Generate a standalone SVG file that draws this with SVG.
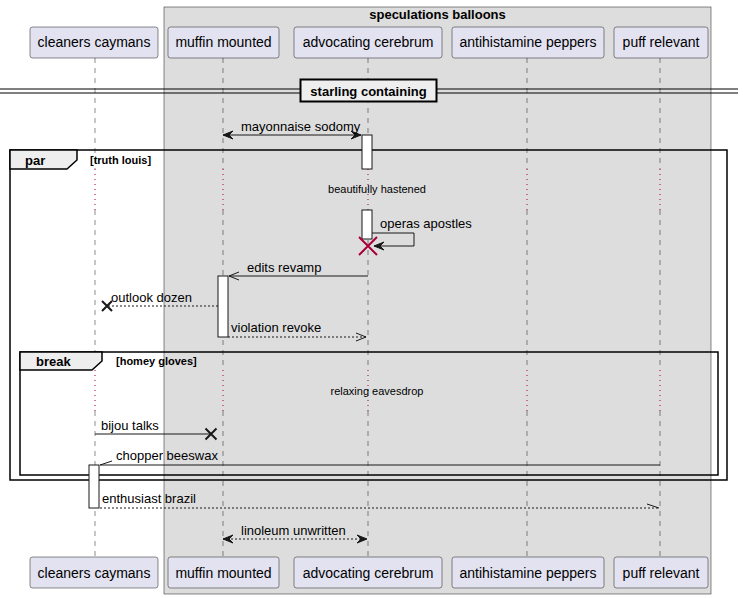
<svg xmlns="http://www.w3.org/2000/svg" width="743" height="598" viewBox="0 0 743 598">
<defs>
<style>
.part{fill:#E2E2F0;stroke:#181818;stroke-width:0.5}
.pt{font-family:"Liberation Sans",Arial,sans-serif;font-size:14px;fill:#000;text-anchor:middle}
.life{stroke:#181818;stroke-width:0.5;stroke-dasharray:5,5;fill:none}
.delay{stroke:#A80036;stroke-width:1;stroke-dasharray:1,4;fill:none}
.msg{stroke:#181818;stroke-width:1;fill:none}
.dash{stroke-dasharray:2,2}
.mt{font-family:"Liberation Sans",Arial,sans-serif;font-size:13px;fill:#000}
.st{font-family:"Liberation Sans",Arial,sans-serif;font-size:11px;fill:#000;text-anchor:middle}
.act{fill:#FFFFFF;stroke:#181818;stroke-width:1}
.frame{fill:none;stroke:#000;stroke-width:1.5}
.tab{fill:#EEEEEE;stroke:#000;stroke-width:1.5}
.ft{font-family:"Liberation Sans",Arial,sans-serif;font-size:13px;font-weight:bold;fill:#000}
.fc{font-family:"Liberation Sans",Arial,sans-serif;font-size:11px;font-weight:bold;fill:#000}
.kill{stroke:#181818;stroke-width:2;fill:none}
.killred{stroke:#A80036;stroke-width:2;fill:none}
</style>
<marker id="arrFill" markerUnits="userSpaceOnUse" markerWidth="12" markerHeight="10" viewBox="-11 -5 12 10" refX="0" refY="0" orient="auto-start-reverse">
<path d="M-10,-4 L0,0 L-10,4 L-6,0 Z" fill="#181818" stroke="#181818" stroke-width="1"/>
</marker>
<marker id="arrOpen" markerUnits="userSpaceOnUse" markerWidth="12" markerHeight="10" viewBox="-11 -5 12 10" refX="0" refY="0" orient="auto-start-reverse">
<path d="M-10,-4 L0,0 L-10,4" fill="none" stroke="#181818" stroke-width="1"/>
</marker>
</defs>

<rect width="743" height="598" fill="#FFFFFF"/>

<!-- box around the grouped participants -->
<g id="box-speculations-balloons">
<rect x="164" y="7" width="547" height="587" fill="#DDDDDD" stroke="#181818" stroke-width="0.5"/>
<text x="437.5" y="19" class="ft" text-anchor="middle">speculations balloons</text>
</g>

<!-- lifelines -->
<g id="lifelines">
<path class="life" d="M95,58 V169 M95,210 V370 M95,411 V557 M223,58 V169 M223,210 V370 M223,411 V557 M368,58 V169 M368,210 V370 M368,411 V557 M527,58 V169 M527,210 V370 M527,411 V557 M660,58 V169 M660,210 V370 M660,411 V557"/>
<path class="delay" d="M95,169 V210 M223,169 V210 M368,169 V210 M527,169 V210 M660,169 V210 M95,370 V411 M223,370 V411 M368,370 V411 M527,370 V411 M660,370 V411"/>
</g>

<!-- participants -->
<g id="p-cleaners-caymans">
<rect class="part" x="30" y="27" width="128" height="31" rx="2.5"/>
<text class="pt" x="94" y="47">cleaners caymans</text>
<rect class="part" x="30" y="557" width="128" height="31" rx="2.5"/>
<text class="pt" x="94" y="578">cleaners caymans</text>
</g>
<g id="p-muffin-mounted">
<rect class="part" x="168" y="27" width="111" height="31" rx="2.5"/>
<text class="pt" x="223.5" y="47">muffin mounted</text>
<rect class="part" x="168" y="557" width="111" height="31" rx="2.5"/>
<text class="pt" x="223.5" y="578">muffin mounted</text>
</g>
<g id="p-advocating-cerebrum">
<rect class="part" x="294" y="27" width="148" height="31" rx="2.5"/>
<text class="pt" x="368" y="47">advocating cerebrum</text>
<rect class="part" x="294" y="557" width="148" height="31" rx="2.5"/>
<text class="pt" x="368" y="578">advocating cerebrum</text>
</g>
<g id="p-antihistamine-peppers">
<rect class="part" x="452" y="27" width="152" height="31" rx="2.5"/>
<text class="pt" x="528" y="47">antihistamine peppers</text>
<rect class="part" x="452" y="557" width="152" height="31" rx="2.5"/>
<text class="pt" x="528" y="578">antihistamine peppers</text>
</g>
<g id="p-puff-relevant">
<rect class="part" x="614" y="27" width="94" height="31" rx="2.5"/>
<text class="pt" x="661" y="47">puff relevant</text>
<rect class="part" x="614" y="557" width="94" height="31" rx="2.5"/>
<text class="pt" x="661" y="578">puff relevant</text>
</g>

<!-- divider -->
<g id="divider-starling-containing">
<path d="M0,89 H738 M0,93 H738" stroke="#000" stroke-width="1" fill="none"/>
<rect x="300.5" y="79.5" width="136" height="22" fill="#EEEEEE" stroke="#000" stroke-width="2"/>
<text x="368.5" y="96" class="ft" text-anchor="middle">starling containing</text>
</g>

<!-- combined fragments -->
<g id="frame-par">
<rect class="frame" x="10" y="150" width="717" height="330"/>
<path class="tab" d="M10,150 H77 V160 L67,169 H10 Z"/>
<text class="ft" x="25" y="165">par</text>
<text class="fc" x="90" y="164">[truth louis]</text>
</g>
<g id="frame-break">
<rect class="frame" x="20" y="352" width="698" height="123"/>
<path class="tab" d="M20,352 H102 V361 L92,370 H20 Z"/>
<text class="ft" x="36" y="366">break</text>
<text class="fc" x="116" y="365">[homey gloves]</text>
</g>

<!-- activations -->
<g id="activations">
<rect class="act" x="362" y="135" width="10" height="34"/>
<rect class="act" x="362" y="210" width="10" height="29"/>
<rect class="act" x="218" y="276" width="10" height="61"/>
<rect class="act" x="89" y="465" width="10" height="43"/>
</g>

<!-- connectors -->
<g id="connectors">
<line class="msg" x1="223" y1="135" x2="361" y2="135" marker-start="url(#arrFill)" marker-end="url(#arrFill)"/>
<text class="mt" x="241" y="131">mayonnaise sodomy</text>

<text class="st" x="377" y="193">beautifully hastened</text>

<polyline class="msg" points="372,233 414,233 414,246 374,246" marker-end="url(#arrFill)"/>
<text class="mt" x="380" y="228">operas apostles</text>
<path class="killred" d="M359,237 L377,255 M377,237 L359,255"/>

<line class="msg" x1="368" y1="276" x2="229" y2="276" marker-end="url(#arrOpen)"/>
<text class="mt" x="247" y="272">edits revamp</text>

<line class="msg dash" x1="218" y1="306" x2="107" y2="306"/>
<path class="kill" d="M102,301 L112,311 M112,301 L102,311"/>
<text class="mt" x="111" y="302">outlook dozen</text>

<line class="msg dash" x1="228" y1="337" x2="366" y2="337" marker-end="url(#arrOpen)"/>
<text class="mt" x="231" y="332">violation revoke</text>

<text class="st" x="377" y="395">relaxing eavesdrop</text>

<line class="msg" x1="95" y1="434" x2="210" y2="434"/>
<path class="kill" d="M205.5,428.5 L216.5,439.5 M216.5,428.5 L205.5,439.5"/>
<text class="mt" x="101" y="430">bijou talks</text>

<line class="msg" x1="660" y1="465" x2="100" y2="465"/>
<line class="msg" x1="100" y1="465" x2="112" y2="461"/>
<text class="mt" x="116" y="460">chopper beeswax</text>

<line class="msg dash" x1="100" y1="508" x2="659" y2="508"/>
<line class="msg" x1="659" y1="508" x2="647" y2="504"/>
<text class="mt" x="102" y="503">enthusiast brazil</text>

<line class="msg dash" x1="223" y1="539" x2="367" y2="539" marker-start="url(#arrFill)" marker-end="url(#arrFill)"/>
<text class="mt" x="241" y="535">linoleum unwritten</text>
</g>
</svg>
